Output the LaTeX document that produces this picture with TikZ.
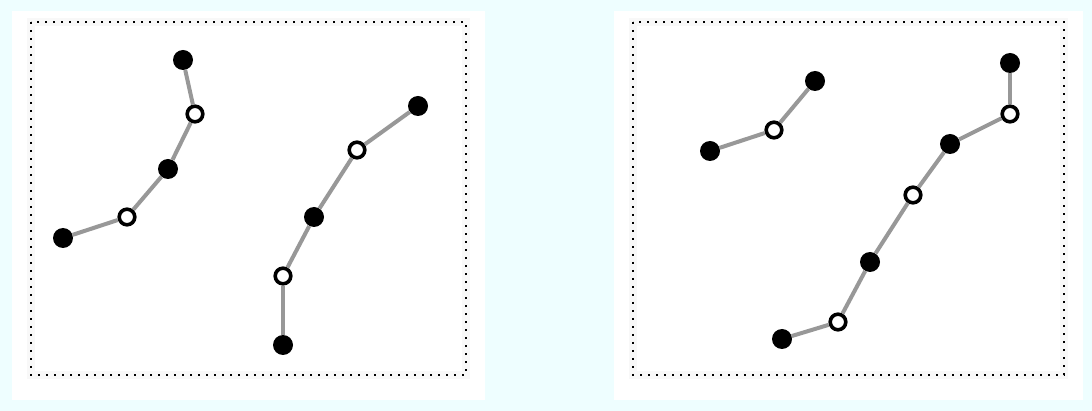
\documentclass[tikz,border=0pt]{standalone}
\usetikzlibrary{calc}
\definecolor{BgCyan}{HTML}{EEFEFF}
\definecolor{LinkGray}{HTML}{989898}
\definecolor{Halo}{HTML}{F8F8F8}
\tikzset{
  full/.style={circle, fill=black, inner sep=0pt, minimum size=20pt},
  hollow/.style={circle, draw=black, line width=3.6pt, fill=white, inner sep=0pt, minimum size=15.6pt},
  link/.style={LinkGray, line width=4pt},
  frame/.style={black, line width=1.6pt, dash pattern=on 1.6pt off 6.4pt},
}
\NewDocumentCommand{\Panel}{O{(0,0)}m}{
    \begin{scope}[shift={#1}]
    \fill[white] (0,0) rectangle (#2,389);
    \draw[Halo, line width=8pt] (19,11) rectangle ($(#2,389)-(19,25)$);
    \fill[white] (23,15) rectangle ($(#2,389)-(23,29)$);
    \draw[frame] (19,11) rectangle ($(#2,389)-(19,25)$);
    \end{scope}
}

\begin{document}
\begin{tikzpicture}[x=1pt, y=-1pt]
\fill[BgCyan] (0,0) rectangle (1092,411);
\useasboundingbox (0,0) rectangle (1092,411);
\Panel[(12,11)]{473}
\Panel[(614,11)]{469}

% left panel
\begin{scope}[name prefix=L-]
    \node[full]   (a1) at (183,60) {};
    \node[hollow] (a2) at (195,114) {};
    \node[full]   (a3) at (168,169) {};
    \node[hollow] (a4) at (127,217) {};
    \node[full]   (a5) at (63,238) {};

    \node[full]   (b1) at (418,106) {};
    \node[hollow] (b2) at (357,150) {};
    \node[full]   (b3) at (314,217) {};
    \node[hollow] (b4) at (283,276) {};
    \node[full]   (b5) at (283,345) {};
\end{scope}
\draw[link] (L-a1) -- (L-a2);
\draw[link] (L-a2) -- (L-a3);
\draw[link] (L-a3) -- (L-a4);
\draw[link] (L-a4) -- (L-a5);
\draw[link] (L-b1) -- (L-b2);
\draw[link] (L-b2) -- (L-b3);
\draw[link] (L-b3) -- (L-b4);
\draw[link] (L-b4) -- (L-b5);

% right panel
\begin{scope}[name prefix=R-]
    \node[full]   (c1) at (815,81) {};
    \node[hollow] (c2) at (774,130) {};
    \node[full]   (c3) at (710,151) {};

    \node[full]   (d1) at (1010,63) {};
    \node[hollow] (d2) at (1010,114) {};
    \node[full]   (d3) at (950,144) {};
    \node[hollow] (d4) at (913,195) {};
    \node[full]   (d5) at (870,262) {};
    \node[hollow] (d6) at (838,322) {};
    \node[full]   (d7) at (782,339) {};
\end{scope}
\draw[link] (R-c1) -- (R-c2);
\draw[link] (R-c2) -- (R-c3);
\draw[link] (R-d1) -- (R-d2);
\draw[link] (R-d2) -- (R-d3);
\draw[link] (R-d3) -- (R-d4);
\draw[link] (R-d4) -- (R-d5);
\draw[link] (R-d5) -- (R-d6);
\draw[link] (R-d6) -- (R-d7);
\end{tikzpicture}
\end{document}
